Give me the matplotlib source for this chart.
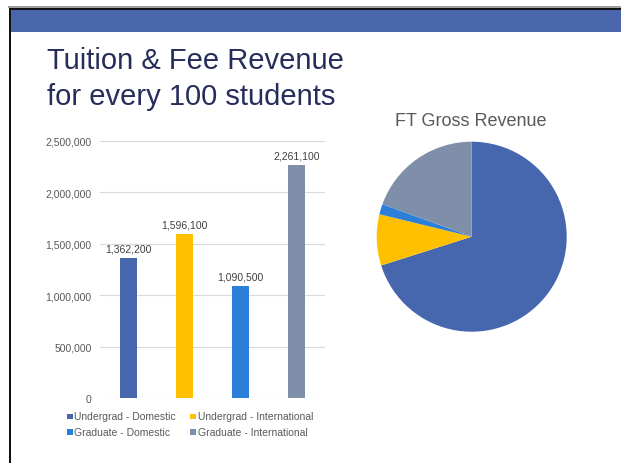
import matplotlib.pyplot as plt
from matplotlib.patches import Rectangle
from matplotlib.ticker import FuncFormatter

plt.rcParams['font.family'] = ['Liberation Sans', 'DejaVu Sans']

# datos de las barras
categorias = ["Undergrad - Domestic", "Undergrad - International",
              "Graduate - Domestic", "Graduate - International"]
ingresos = [1362200, 1596100, 1090500, 2261100]
colores = ["#4666ad", "#ffc000", "#2b7fd8", "#7f8fa9"]

# porcentajes aproximados del grafico de torta
torta = [70.1, 8.7, 1.75, 19.45]

W, H = 621, 464
fig = plt.figure(figsize=(W / 100, H / 100), dpi=100)

# marco de la diapositiva
fig.patches.append(Rectangle((8 / W, (H - 8.5) / H), 1, 1.2 / H, transform=fig.transFigure,
                             color="#a0a0a0", lw=0))
fig.patches.append(Rectangle((8.5 / W, (H - 11) / H), 1, 2.5 / H, transform=fig.transFigure,
                             color="#111111", lw=0))
fig.patches.append(Rectangle((11 / W, (H - 33) / H), 1, 22 / H, transform=fig.transFigure,
                             color="#4a67ad", lw=0))
fig.patches.append(Rectangle((8.5 / W, 0), 2.5 / W, (H - 8.5) / H, transform=fig.transFigure,
                             color="#111111", lw=0))

fig.text(47 / W, 1 - 69 / H, "Tuition & Fee Revenue", fontsize=21, color="#262d5a")
fig.text(47 / W, 1 - 105 / H, "for every 100 students", fontsize=21, color="#262d5a")

# grafico de barras
ax = fig.add_axes([100 / W, 64.7 / H, 225 / W, 257.6 / H])
x = range(len(ingresos))
ax.bar(x, ingresos, width=0.3, color=colores, zorder=3)
for i, v in zip(x, ingresos):
    ax.text(i, v + 45000, f"{v:,}", ha="center", va="bottom", fontsize=7.5, color="#404040")
ax.set_xlim(-0.5, 3.5)
ax.set_ylim(0, 2500000)
ax.set_yticks(range(0, 2500001, 500000))
ax.yaxis.set_major_formatter(FuncFormatter(lambda v, p: f"{int(v):,}"))
ax.set_xticks([])
ax.grid(axis="y", color="#d9d9d9", lw=0.8, zorder=0)
ax.tick_params(axis="y", length=0, pad=6, labelsize=7.5, labelcolor="#595959")
for s in ax.spines.values():
    s.set_visible(False)

# leyenda
pos = [(67, 417.5), (190, 417.5), (67, 433), (190, 433)]
for (px, py), nombre, c in zip(pos, categorias, colores):
    fig.patches.append(Rectangle((px / W, (H - py - 2.8) / H), 5.5 / W, 5.5 / H,
                                 transform=fig.transFigure, color=c, lw=0))
    fig.text((px + 7.5) / W, (H - py) / H, nombre, fontsize=7.5, color="#595959", va="center")

# grafico de torta
ax2 = fig.add_axes([(471.7 - 95) / W, (H - 237.7 - 95) / H, 190 / W, 190 / H])
ax2.pie(torta, colors=colores, startangle=90, counterclock=False,
        wedgeprops=dict(linewidth=0))
ax2.set_xlim(-1, 1)
ax2.set_ylim(-1, 1)
ax2.set_aspect("equal")
fig.text(471 / W, 1 - 122 / H, "FT Gross Revenue", fontsize=13, color="#595959",
         ha="center", va="center")

fig.savefig("out.png", dpi=100)
